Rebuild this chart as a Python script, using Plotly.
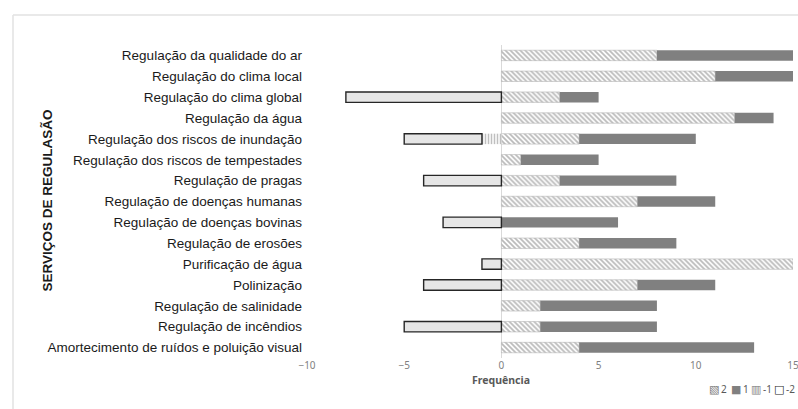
import plotly.graph_objects as go

# Regulating ecosystem services and frequency of each score
servicos = [
    "Regulação da qualidade do ar",
    "Regulação do clima local",
    "Regulação do clima global",
    "Regulação da água",
    "Regulação dos riscos de inundação",
    "Regulação dos riscos de tempestades",
    "Regulação de pragas",
    "Regulação de doenças humanas",
    "Regulação de doenças bovinas",
    "Regulação de erosões",
    "Purificação de água",
    "Polinização",
    "Regulação de salinidade",
    "Regulação de incêndios",
    "Amortecimento de ruídos e poluição visual",
]
score_2 = [8, 11, 3, 12, 4, 1, 3, 7, 0, 4, 15, 7, 2, 2, 4]
score_1 = [7, 4, 2, 2, 6, 4, 6, 4, 6, 5, 0, 4, 6, 6, 9]
score_m1 = [0, 0, 0, 0, -1, 0, 0, 0, 0, 0, 0, 0, 0, 0, 0]
score_m2 = [0, 0, -8, 0, -4, 0, -4, 0, -3, 0, -1, -4, 0, -5, 0]

x_ticks = [-10, -5, 0, 5, 10, 15]

W, H = 798, 409
L, R, T, B = 307, 793, 45, 358


def px_x(px):
    return (px - L) / (R - L)


def px_y(py):
    return (B - py) / (B - T)


def nz(values):
    # empty cells stay empty instead of stacking a zero-width bar
    return [v if v != 0 else None for v in values]


fig = go.Figure()

fig.add_trace(go.Bar(
    y=servicos, x=nz(score_2), orientation="h", name="2",
    marker=dict(color="white", line=dict(color="#b5b5b5", width=0.6),
                pattern=dict(shape="\\", size=3.5, solidity=0.5,
                             fgcolor="#767676", bgcolor="white")),
))
fig.add_trace(go.Bar(
    y=servicos, x=nz(score_1), orientation="h", name="1",
    marker=dict(color="#808080", line=dict(width=0)),
))
fig.add_trace(go.Bar(
    y=servicos, x=nz(score_m1), orientation="h", name="-1",
    marker=dict(color="white", line=dict(width=0),
                pattern=dict(shape="|", size=3, solidity=0.5,
                             fgcolor="#808080", bgcolor="white")),
))
fig.add_trace(go.Bar(
    y=servicos, x=nz(score_m2), orientation="h", name="-2",
    marker=dict(color="#e6e6e6", line=dict(color="#262626", width=1.4)),
))

# Outer frame of the chart area
frame = dict(type="line", xref="paper", yref="paper",
             line=dict(color="#e2e2e2", width=1.5), layer="below")
fig.add_shape(**frame, x0=px_x(13), y0=px_y(15), x1=px_x(820), y1=px_y(15))
fig.add_shape(**frame, x0=px_x(13), y0=px_y(15), x1=px_x(13), y1=px_y(430))

fig.add_annotation(
    text="<b>SERVIÇOS DE REGULASÃO</b>", xref="paper", yref="paper",
    x=px_x(37), y=px_y(201), textangle=-90, showarrow=False,
    font=dict(family="Liberation Sans", size=13.5, color="#1a1a1a"),
)
fig.add_annotation(
    text="<b>Frequência</b>", xref="paper", yref="paper",
    x=px_x(501), y=px_y(389), showarrow=False,
    font=dict(family="Noto Sans", size=10.5, color="#595959"),
)

# Compact legend row: swatch glyph + label for each score
legend_items = [
    ("▧", "#7a7a7a", "2", 714),
    ("■", "#808080", "1", 736),
    ("▥", "#808080", "-1", 756),
    ("□", "#262626", "-2", 779),
]
for glyph, colour, label, xpos in legend_items:
    fig.add_annotation(
        text=glyph, xref="paper", yref="paper", x=px_x(xpos), y=px_y(389),
        showarrow=False, xanchor="center", yanchor="middle",
        font=dict(family="DejaVu Sans", size=11, color=colour),
    )
    fig.add_annotation(
        text=label, xref="paper", yref="paper", x=px_x(xpos + 5), y=px_y(389),
        showarrow=False, xanchor="left", yanchor="middle",
        font=dict(family="Noto Sans", size=10, color="#595959"),
    )

fig.update_layout(
    width=W, height=H,
    margin=dict(l=L, r=W - R, t=T, b=H - B, autoexpand=False),
    barmode="relative", bargap=0.5,
    plot_bgcolor="white", paper_bgcolor="white",
    showlegend=False,
    xaxis=dict(range=[-10, 15], tickvals=x_ticks, showgrid=False,
               zeroline=True, zerolinecolor="#d9d9d9", zerolinewidth=1,
               showline=False, ticks="", ticklabeloverflow="allow",
               tickfont=dict(family="Noto Sans", size=10, color="#7f7f7f")),
    yaxis=dict(autorange="reversed", showgrid=False, showline=False,
               ticks="", ticklabelstandoff=4,
               tickfont=dict(family="Liberation Sans", size=13.5, color="#1a1a1a")),
)

fig.write_html("out.html")
